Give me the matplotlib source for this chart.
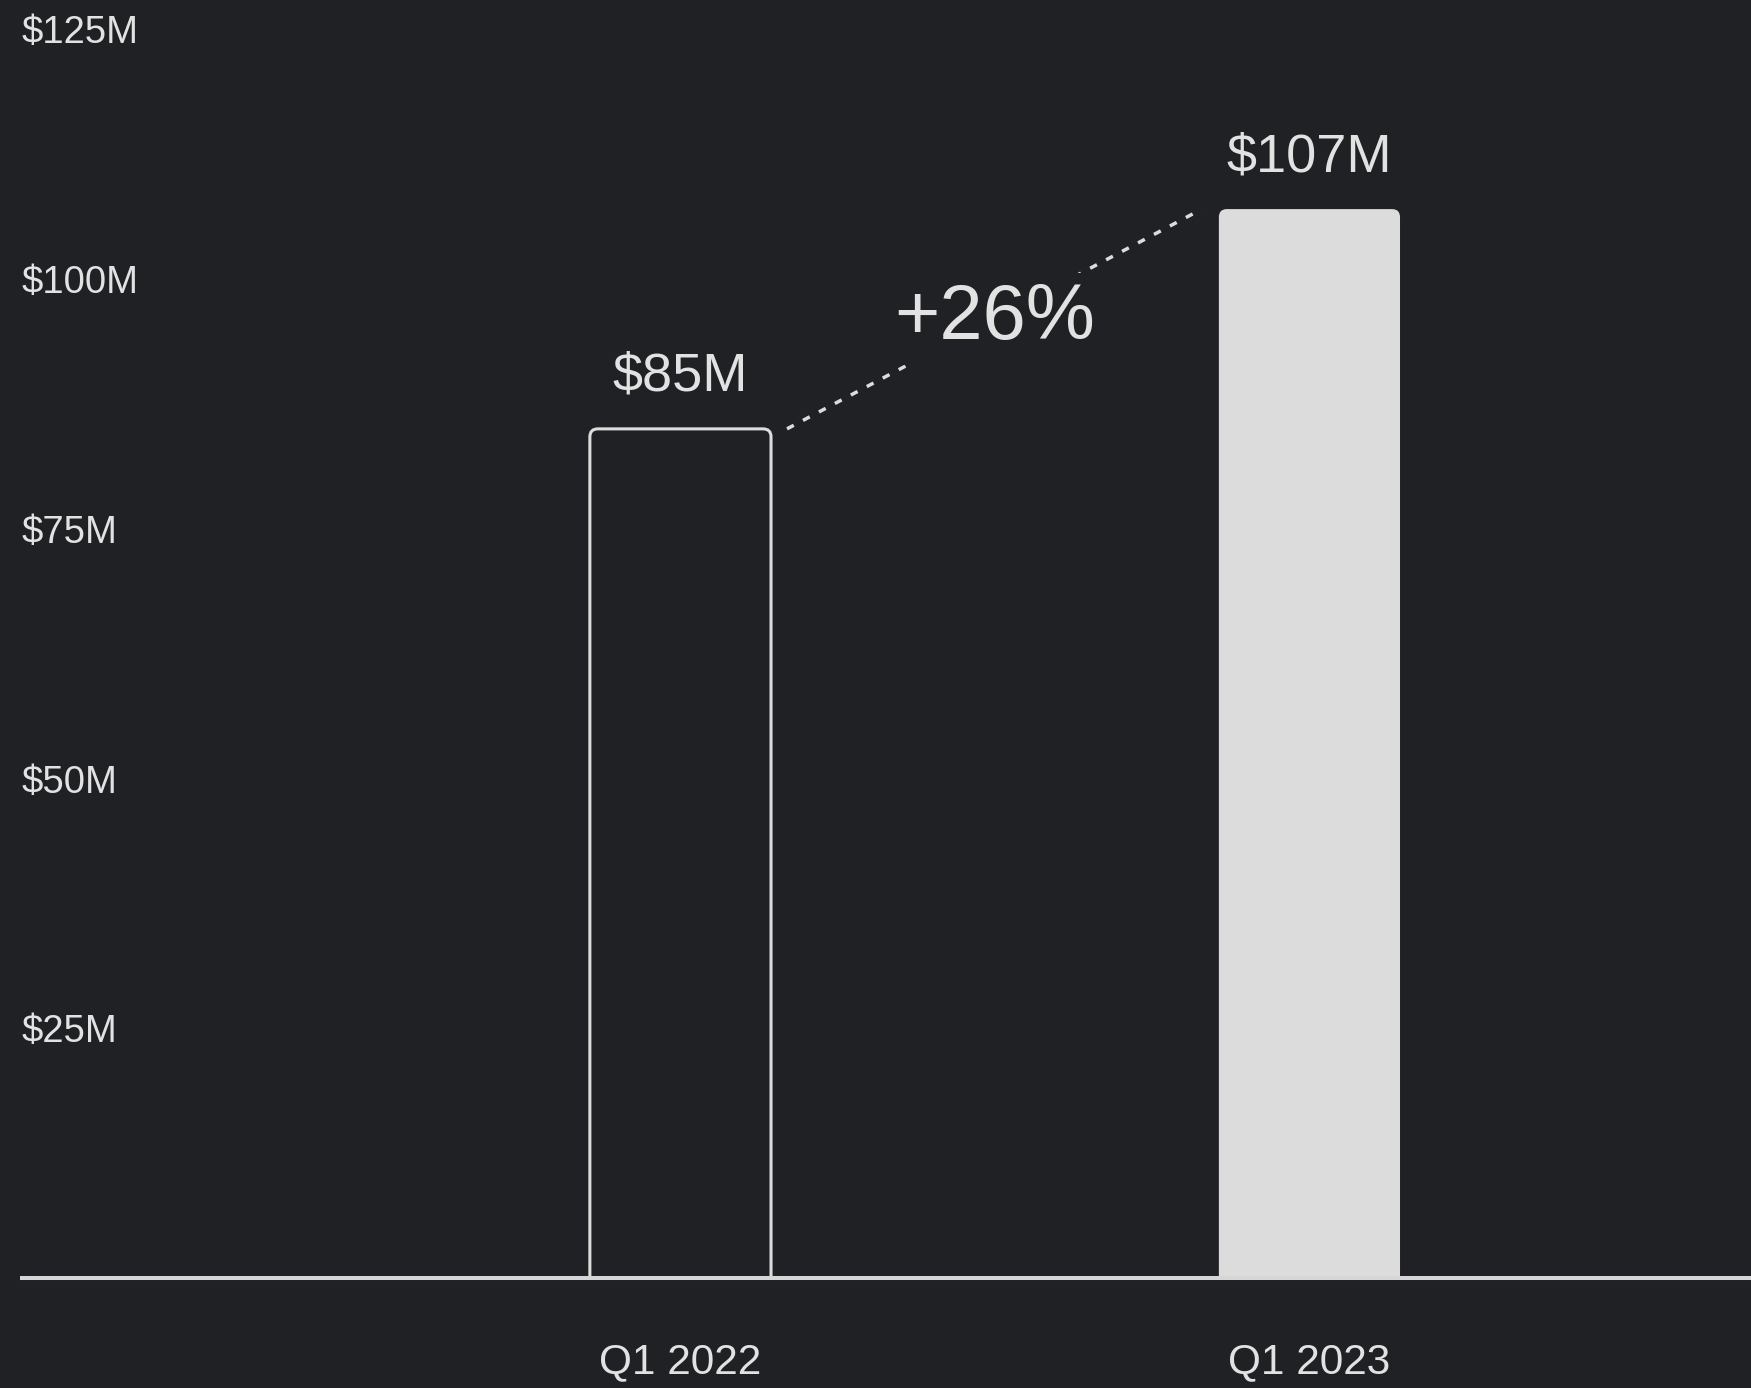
import matplotlib
matplotlib.use("Agg")
import matplotlib.pyplot as plt
from matplotlib.patches import FancyBboxPatch

# Quarterly revenue, in millions of dollars
quarters = ["Q1 2022", "Q1 2023"]
revenue = [85, 107]
growth_label = "+26%"
y_ticks = [25, 50, 75, 100, 125]
y_tick_labels = ["$25M", "$50M", "$75M", "$100M", "$125M"]

BG = "#1f2124"
FG = "#dcdcdc"
TEXT = "#e2e2e2"

plt.rcParams["font.family"] = ["Liberation Sans", "DejaVu Sans"]

W, H, DPI = 1751, 1388, 100
fig = plt.figure(figsize=(W / DPI, H / DPI), dpi=DPI, facecolor=BG)
ax = fig.add_axes([20 / W, 110 / H, 1731 / W, 1278 / H])
ax.set_facecolor(BG)

xpos = list(range(len(quarters)))
bar_w = 0.288
ax.set_xlim(-1.050, 1.702)
ax.set_ylim(0, 127.93)

# pixel size of one data unit along each axis
p0 = ax.transData.transform((0, 0))
p1 = ax.transData.transform((1, 1))
px_x, px_y = p1[0] - p0[0], p1[1] - p0[1]

bars = ax.bar(xpos, revenue, width=bar_w)
styles = [dict(facecolor=BG, edgecolor=FG, linewidth=2.2),
          dict(facecolor=FG, edgecolor="none", linewidth=0)]
for rect, st in zip(bars, styles):
    rect.set_visible(False)
    bx, bwid, bh = rect.get_x(), rect.get_width(), rect.get_height()
    below = 3.0  # extends under the baseline so only the top corners show rounded
    patch = FancyBboxPatch((bx, -below), bwid, bh + below,
                           boxstyle=f"round,pad=0,rounding_size={8 / px_x}",
                           mutation_aspect=px_x / px_y, zorder=2, **st)
    ax.add_patch(patch)

# value labels above each bar
for xi, v in zip(xpos, revenue):
    ax.annotate(f"${v}M", xy=(xi, v), xytext=(0, 27.4), textcoords="offset points",
                ha="center", va="baseline", fontsize=39, color=TEXT)

# dotted connector between the bar tops, with the growth figure on it
x0 = xpos[0] + bar_w / 2 + 16 / px_x
x1 = xpos[1] - bar_w / 2 - 17 / px_x
ax.plot([x0, x1], [revenue[0], revenue[1]], color=FG, linewidth=2.5,
        dashes=(2.2, 3.0), dash_capstyle="butt", zorder=3)
ax.text((x0 + x1) / 2, (revenue[0] + revenue[1]) / 2, growth_label,
        ha="center", va="center", fontsize=56, color=TEXT, zorder=4,
        bbox=dict(boxstyle="square,pad=0.12", facecolor=BG, edgecolor="none"))

# axes styling
for side in ["top", "right", "left"]:
    ax.spines[side].set_visible(False)
ax.spines["bottom"].set_color("#d6d6d6")
ax.spines["bottom"].set_linewidth(2.9)
ax.spines["bottom"].set_capstyle("butt")
ax.spines["bottom"].set_zorder(5)

ax.set_yticks(y_ticks, y_tick_labels)
ax.tick_params(axis="y", length=0, pad=-1, labelsize=27.5, labelcolor=TEXT)
for t in ax.get_yticklabels():
    t.set_horizontalalignment("left")

ax.set_xticks(xpos, quarters)
ax.tick_params(axis="x", length=0, pad=46, labelsize=30.5, labelcolor=TEXT)

fig.savefig("out.png", dpi=DPI, facecolor=BG)
